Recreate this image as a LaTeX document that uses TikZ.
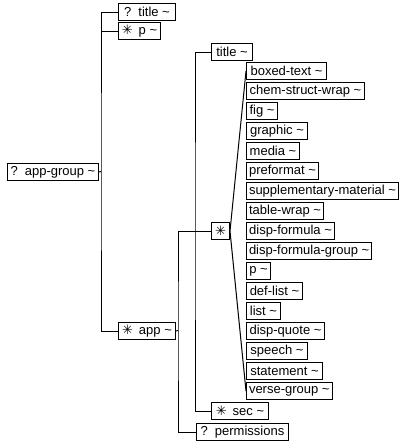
\documentclass[tikz,border=0pt]{standalone}
\usepackage{fontspec}
\setmainfont{Liberation Sans}
\newfontfamily\symfont{DejaVu Sans}
\newcommand\optmark{?\hspace{7pt}}
\newcommand\repmark{{\symfont ✳}\hspace{6pt}}
\newcommand\tld{\textasciitilde}
\begin{document}
\begin{tikzpicture}[x=1pt,y=-1pt,line width=1pt,
  box/.style={draw,anchor=north west,minimum height=17pt,inner xsep=2.5pt,inner ysep=0pt,
    font=\fontsize{13}{15}\selectfont}]
\useasboundingbox[fill=white] (0,0) rectangle (407,442);

% top level
\node[box,minimum width=91pt] (agroup) at (7,163) {\optmark app-group \tld};
\node[box,minimum width=57pt] (title1) at (118,3) {\optmark title \tld};
\node[box,minimum width=42pt] (p1) at (118,22) {\repmark p \tld};
\node[box,minimum width=57pt] (app) at (118,322) {\repmark app \tld};

% content of app
\node[box,minimum width=41pt] (title2) at (211,43) {title \tld};
\node[box,minimum width=18pt,inner xsep=1pt] (choice) at (211,222) {{\symfont ✳}};
\node[box,minimum width=57pt] (sec) at (211,402) {\repmark sec \tld};
\node[box,minimum width=92pt] (perm) at (196,423) {\optmark permissions};

% members of the choice
\foreach \nm/\w [count=\i] in {boxed-text/80,chem-struct-wrap/118,fig/31,graphic/61,
  media/53,preformat/72,supplementary-material/152,table-wrap/77,disp-formula/88,
  disp-formula-group/123,p/24,def-list/56,list/34,disp-quote/78,speech/61,
  statement/76,verse-group/83}
  \node[box,minimum width=\w pt] (c\i) at (246,{62+20*(\i-1)}) {\nm{} \tld};

% connectors
\coordinate (j1) at (101,171.5);
\coordinate (j2) at (178,330.5);
\coordinate (j3) at (195,230.5);
\draw (agroup.east) -- (j1);
\draw (title1.west) -| (j1) |- (app.west);
\draw (p1.west) -- (p1.west -| j1);
\draw (app.east) -- (j2);
\draw (choice.west) -| (j2) |- (perm.west);
\draw (title2.west) -| (j3) |- (sec.west);
\draw (c1.west) -- (choice.east) -- (c17.west);
\end{tikzpicture}
\end{document}
